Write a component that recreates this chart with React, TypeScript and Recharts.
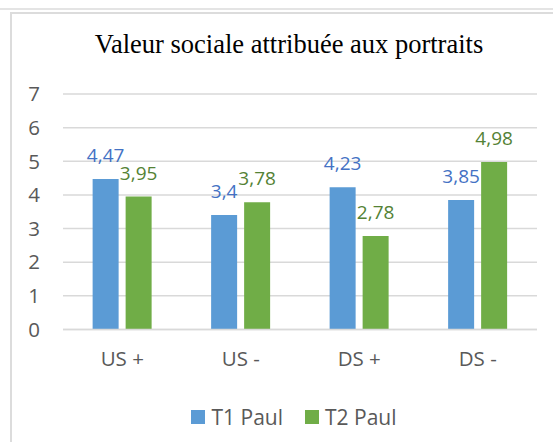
import React from 'react';
import { BarChart, Bar, XAxis, YAxis, CartesianGrid, Legend, LabelList } from 'recharts';

const categories = ['US +', 'US -', 'DS +', 'DS -'];
const t1Paul = [4.47, 3.4, 4.23, 3.85];
const t2Paul = [3.95, 3.78, 2.78, 4.98];
const yTicks = [0, 1, 2, 3, 4, 5, 6, 7];
const seriesNames = ['T1 Paul', 'T2 Paul'];
const title = 'Valeur sociale attribuée aux portraits';

const data = categories.map((c, i) => ({ category: c, t1: t1Paul[i], t2: t2Paul[i] }));

const SANS = '"Open Sans", "Noto Sans", sans-serif';
const fmt = (v: any) => String(v).replace('.', ',');

const LegendContent = (props: any) => {
  const payload = props.payload || [];
  return (
    <div style={{ display: 'flex', justifyContent: 'center', alignItems: 'center', height: 30 }}>
      {payload.map((p: any, i: number) => (
        <div key={i} style={{ display: 'flex', alignItems: 'center', marginLeft: i > 0 ? 22 : 0 }}>
          <span style={{ display: 'inline-block', width: 14, height: 14, background: p.color, marginRight: 6 }} />
          <span style={{ fontFamily: SANS, fontSize: 21, color: '#595959', lineHeight: '30px' }}>{p.value}</span>
        </div>
      ))}
    </div>
  );
};

export default function App() {
  return (
    <div style={{ position: 'absolute', left: 0, top: 0, width: 553, height: 442, overflow: 'hidden', background: '#fff' }}>
      <div style={{ position: 'absolute', left: 0, top: 8, width: 553, height: 2, background: '#e4e4e4' }} />
      <div style={{ position: 'absolute', left: 10, top: 12, width: 700, height: 600, borderTop: '2px solid #dcdcdc', borderLeft: '2px solid #dcdcdc' }} />
      <div style={{ position: 'absolute', left: 0, top: 31, width: 578, textAlign: 'center', fontFamily: '"Liberation Serif", "Times New Roman", serif', fontSize: 26.5, lineHeight: 1, color: '#000' }}>
        {title}
      </div>
      <div style={{ position: 'absolute', left: 0, top: 0 }}>
        <BarChart width={580} height={442} data={data} margin={{ top: 94, right: 43, left: 0, bottom: 10 }} barCategoryGap="25%" barGap={7}>
          <CartesianGrid vertical={false} stroke="#d9d9d9" strokeWidth={1.5} />
          <XAxis dataKey="category" axisLine={{ stroke: '#d9d9d9', strokeWidth: 1.5 }} tickLine={false} tickSize={0} tickMargin={22} height={72.5} tick={{ fill: '#595959', fontSize: 20.5, fontFamily: SANS }} />
          <YAxis domain={[0, 7]} ticks={yTicks} width={63} axisLine={false} tickLine={false} tickSize={0} tickMargin={23} tick={{ fill: '#595959', fontSize: 20.5, fontFamily: SANS }} />
          <Legend verticalAlign="bottom" content={<LegendContent />} wrapperStyle={{ left: 4, width: 580 }} />
          <Bar dataKey="t1" name={seriesNames[0]} fill="#5B9BD5" isAnimationActive={false}>
            <LabelList dataKey="t1" position="top" offset={17} formatter={fmt} fill="#4472C4" fontSize={19} fontFamily={SANS} />
          </Bar>
          <Bar dataKey="t2" name={seriesNames[1]} fill="#70AD47" isAnimationActive={false}>
            <LabelList dataKey="t2" position="top" offset={17} formatter={fmt} fill="#548235" fontSize={19} fontFamily={SANS} />
          </Bar>
        </BarChart>
      </div>
    </div>
  );
}
